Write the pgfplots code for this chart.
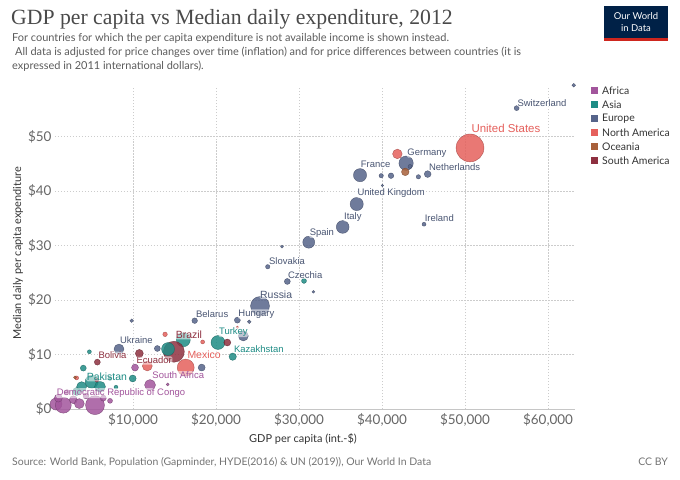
\documentclass[border=0pt]{standalone}
\usepackage{pgfplots}
\pgfplotsset{compat=1.18}
\usepackage{pgfplotstable}
\usepackage{fontspec}
\setmainfont{Lato}
\newfontfamily\titlefont{Liberation Serif}
\newfontfamily\labfont{Liberation Sans}
\definecolor{africa}{HTML}{A2559C}
\definecolor{asia}{HTML}{1E8C85}
\definecolor{europe}{HTML}{56648A}
\definecolor{namerica}{HTML}{E5605C}
\definecolor{oceania}{HTML}{A8603A}
\definecolor{samerica}{HTML}{8E3040}
\definecolor{eulab}{HTML}{4A5673}
\definecolor{owidnavy}{HTML}{002147}
\definecolor{owidred}{HTML}{CE261E}
\definecolor{titlegray}{HTML}{4A4A4A}
\definecolor{subgray}{HTML}{5B5B5B}

\pgfplotstableread{
x y r
720 0.9 6
1600 0.7 8
5420 0.7 9.5
2810 1.7 4
1000 2.0 4
3530 1.0 5
6420 2.0 3
7230 1.5 2.5
12050 4.4 5.5
10240 7.6 3.5
14180 4.5 1.5
2050 3.1 2.5
4340 2.4 3
}\africa

\pgfplotstableread{
x y r
16060 12.7 7
3810 4.1 5
5020 5.0 6.5
6020 4.1 5.5
3210 3.2 4
4740 10.5 2
4010 7.5 3
7230 5.6 2
7950 4.0 2
9960 5.6 3.5
20240 12.2 7
22010 9.6 3.7
30600 23.5 2.5
}\asia

\pgfplotstableread{
x y r
14220 11.0 6.5
}\asiatop

\pgfplotstableread{
x y r
63100 59.4 1.8
56220 55.2 2.5
42900 45.1 7.2
43370 44.5 2
45500 43.1 3.4
44380 42.6 2.2
37350 42.9 6.6
39900 42.8 2.2
41080 42.8 2.8
40040 41.0 1.2
36950 37.6 6.6
45060 33.9 2
35260 33.4 6.4
31170 30.6 6
27950 29.8 1.5
26230 26.1 2.2
28590 23.4 3
31730 21.5 1.4
25300 18.9 9.5
22570 16.3 3
24000 16.0 1.8
17430 16.2 2.8
9840 16.2 1.8
23290 13.4 5
18270 7.6 3.5
12930 11.1 3
8310 11.0 5
}\europe

\pgfplotstableread{
x y r
50600 47.9 14
41850 46.8 4.8
16350 7.6 8.5
11720 7.9 5
13860 13.7 2.3
18390 12.3 2
22570 15.0 1.3
3210 5.7 2
}\namerica

\pgfplotstableread{
x y r
42800 43.5 3.8
3010 5.8 1.5
}\oceania

\pgfplotstableread{
x y r
14920 10.5 10.5
10760 10.2 4
21360 12.2 3.5
5700 8.6 3
5630 5.3 2
}\samerica

\pgfplotsset{
  bub/.style={scatter, only marks, mark=*, scatter src=explicit,
    scatter/use mapped color={draw=#1!70!black, fill=#1, fill opacity=0.85, draw opacity=0.8, line width=0.4pt},
    visualization depends on={\thisrow{r}\as\rad},
    scatter/@pre marker code/.append style={/tikz/mark size=\rad}},
}

% label on a faint white backing: #1 size, #2 colour, #3 coordinate, #4 text
\newcommand\halo[4]{%
  \node[anchor=west, inner sep=0.6bp, rounded corners=1.5bp, fill=white, fill opacity=0.55, text opacity=1,
        font=\labfont\fontsize{#1}{#1}\selectfont, text=#2] at (#3) {#4};}

\begin{document}
\begin{tikzpicture}[x=1bp,y=1bp]
\path[use as bounding box] (0,0) rectangle (680,480);

% title and subtitle
\node[anchor=base west, inner sep=0pt, text=titlegray, font=\titlefont\fontsize{21.8}{23}\selectfont] at (11,455) {GDP per capita vs Median daily expenditure, 2012};
\node[anchor=base west, inner sep=0pt, text=subgray, font=\fontsize{11}{13}\selectfont] at (12,438.5) {For countries for which the per capita expenditure is not available income is shown instead.};
\node[anchor=base west, inner sep=0pt, text=subgray, font=\fontsize{11}{13}\selectfont] at (15,424.5) {All data is adjusted for price changes over time (inflation) and for price differences between countries (it is};
\node[anchor=base west, inner sep=0pt, text=subgray, font=\fontsize{11}{13}\selectfont] at (12,410) {expressed in 2011 international dollars).};

% logo
\fill[owidnavy] (604,439) rectangle (668,474);
\fill[owidred] (604,439) rectangle (668,442);
\node[text=white, inner sep=0pt, font=\fontsize{9.5}{10}\selectfont] at (636,464) {Our World};
\node[text=white, inner sep=0pt, font=\fontsize{9.5}{10}\selectfont] at (636,452) {in Data};

\begin{axis}[
  at={(55bp,71bp)}, anchor=south west,
  width=520bp, height=322bp, scale only axis,
  xmin=600, xmax=63250, ymin=0, ymax=59.08,
  clip=false,
  scaled x ticks=false, scaled y ticks=false,
  axis x line*=bottom, axis y line*=left,
  x axis line style={draw=gray!45, line width=0.7pt, -},
  y axis line style={draw=none},
  xmajorgrids, ymajorgrids,
  grid style={gray!40, dash pattern=on 1.5pt off 1.5pt, line width=0.5pt},
  major tick length=0pt,
  xtick={10000,20000,30000,40000,50000,60000},
  xticklabels={\$10{,}000,\$20{,}000,\$30{,}000,\$40{,}000,\$50{,}000,\$60{,}000},
  ytick={0,10,20,30,40,50},
  yticklabels={\$0,\$10,\$20,\$30,\$40,\$50},
  tick label style={font=\fontsize{13.5}{15}\selectfont, text=black!60},
  xticklabel style={yshift=-1bp},
]
\addplot[bub=africa] table[x=x,y=y,meta=r]{\africa};
\addplot[bub=asia] table[x=x,y=y,meta=r]{\asia};
\addplot[bub=europe] table[x=x,y=y,meta=r]{\europe};
\addplot[bub=namerica] table[x=x,y=y,meta=r]{\namerica};
\addplot[bub=oceania] table[x=x,y=y,meta=r]{\oceania};
\addplot[bub=samerica] table[x=x,y=y,meta=r]{\samerica};
\addplot[bub=asia] table[x=x,y=y,meta=r]{\asiatop};

\coordinate (L1) at (axis cs:56230,56.2);
\coordinate (L2) at (axis cs:50690,51.4);
\coordinate (L3) at (axis cs:42970,47.0);
\coordinate (L4) at (axis cs:45580,44.3);
\coordinate (L5) at (axis cs:37350,44.9);
\coordinate (L6) at (axis cs:36950,39.6);
\coordinate (L7) at (axis cs:35340,35.3);
\coordinate (L8) at (axis cs:45060,35.1);
\coordinate (L9) at (axis cs:31200,32.3);
\coordinate (L10) at (axis cs:26300,27.2);
\coordinate (L11) at (axis cs:28590,24.6);
\coordinate (L12) at (axis cs:25220,21.0);
\coordinate (L13) at (axis cs:17510,17.4);
\coordinate (L14) at (axis cs:22610,17.4);
\coordinate (L15) at (axis cs:20280,14.1);
\coordinate (L16) at (axis cs:22090,11.0);
\coordinate (L17) at (axis cs:15060,13.6);
\coordinate (L18) at (axis cs:16470,9.9);
\coordinate (L19) at (axis cs:8350,12.7);
\coordinate (L20) at (axis cs:5750,9.8);
\coordinate (L21) at (axis cs:10330,8.9);
\coordinate (L22) at (axis cs:12250,6.2);
\coordinate (L23) at (axis cs:4340,5.9);
\coordinate (L24) at (axis cs:720,2.9);
\end{axis}

% labels (on top of the bubbles)
\halo{9.5}{eulab}{L1}{Switzerland}
\halo{11.5}{namerica}{L2}{United States}
\halo{9.5}{eulab}{L3}{Germany}
\halo{9.5}{eulab}{L4}{Netherlands}
\halo{9.5}{eulab}{L5}{France}
\halo{9.5}{eulab}{L6}{United Kingdom}
\halo{9.5}{eulab}{L7}{Italy}
\halo{9.5}{eulab}{L8}{Ireland}
\halo{9.5}{eulab}{L9}{Spain}
\halo{9.5}{eulab}{L10}{Slovakia}
\halo{9.5}{eulab}{L11}{Czechia}
\halo{10.5}{eulab}{L12}{Russia}
\halo{9.5}{eulab}{L13}{Belarus}
\halo{9.5}{eulab}{L14}{Hungary}
\halo{9.5}{asia}{L15}{Turkey}
\halo{9.5}{asia}{L16}{Kazakhstan}
\halo{10.5}{samerica}{L17}{Brazil}
\halo{10.5}{namerica}{L18}{Mexico}
\halo{9.5}{eulab}{L19}{Ukraine}
\halo{9.5}{samerica}{L20}{Bolivia}
\halo{9.5}{samerica}{L21}{Ecuador}
\halo{9.5}{africa}{L22}{South Africa}
\halo{10.5}{asia}{L23}{Pakistan}
\halo{9.5}{africa}{L24}{Democratic Republic of Congo}

% axis titles
\node[rotate=90, inner sep=0pt, font=\fontsize{11}{12}\selectfont, text=black!80] at (18,227) {Median daily per capita expenditure};
\node[inner sep=0pt, font=\fontsize{11}{12}\selectfont, text=black!80] at (303,41) {GDP per capita (int.-\$)};

% legend
\foreach \c/\t [count=\i from 0] in {africa/Africa,asia/Asia,europe/Europe,namerica/North America,oceania/Oceania,samerica/South America}{
  \fill[\c] (590.5,{389-14*\i-3.5}) rectangle (597.5,{389-14*\i+3.5});
  \node[anchor=west, inner sep=0pt, font=\fontsize{10.5}{12}\selectfont, text=black!80] at (602,{389-14*\i}) {\t};
}

% footer
\node[anchor=west, inner sep=0pt, font=\fontsize{10.5}{12}\selectfont, text=black!55] at (12,18) {Source: World Bank, Population (Gapminder, HYDE(2016) \& UN (2019)), Our World In Data};
\node[anchor=east, inner sep=0pt, font=\fontsize{10.5}{12}\selectfont, text=black!55] at (668,18) {CC BY};
\end{tikzpicture}
\end{document}
